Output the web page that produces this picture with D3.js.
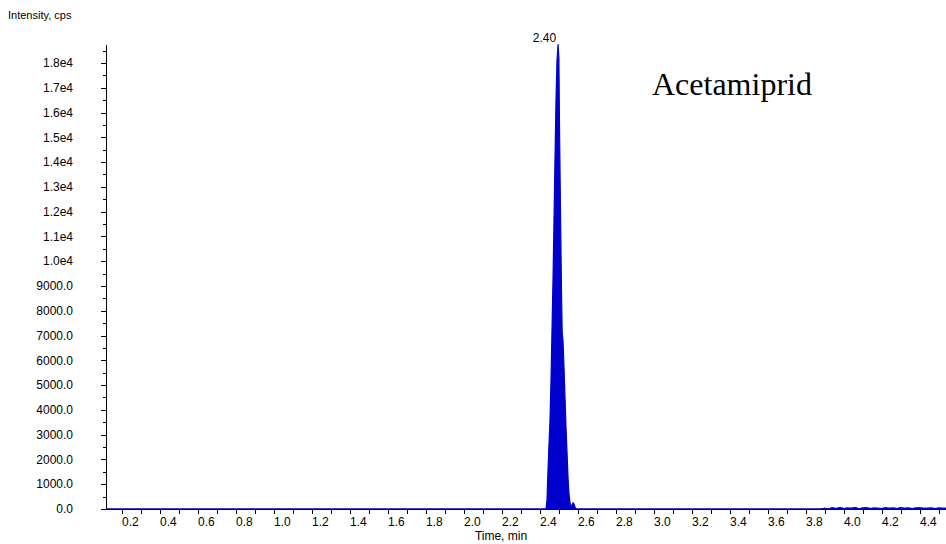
<!DOCTYPE html>
<html>
<head>
<meta charset="utf-8">
<script src="https://cdn.jsdelivr.net/npm/d3@7"></script>
<style>
  html, body { margin: 0; padding: 0; background: #fff; }
  svg { display: block; }
  text { font-family: Arial, "Liberation Sans", sans-serif; fill: #000; }
</style>
</head>
<body>
<svg id="chart" width="946" height="544"></svg>
<script>
// ---- data ----
const peakTimes = [2.3332, 2.3384, 2.3437, 2.3489, 2.3542, 2.3595, 2.3647, 2.3700, 2.3753, 2.3805,
                   2.3858, 2.3911, 2.3970, 2.4010, 2.4042, 2.4095, 2.4147, 2.4184, 2.4226, 2.4279,
                   2.4332, 2.4384, 2.4437, 2.4489, 2.4542, 2.4595, 2.4647, 2.4700, 2.4753, 2.4805,
                   2.4858, 2.4911];
const peakValues = [0, 360, 1570, 2600, 3590, 5200, 7200, 9240, 11660, 14100,
                    16500, 18100, 18760, 18200, 15500, 12000, 8800, 7100, 6800, 5700,
                    4500, 3300, 2300, 1300, 600, 250, 120, 150, 250, 200,
                    80, 0];
const noiseTimes = [3.78, 3.80, 3.82, 3.84, 3.86, 3.88, 3.90, 3.92, 3.94, 3.96, 3.98, 4.00,
                    4.02, 4.04, 4.06, 4.08, 4.10, 4.12, 4.14, 4.16, 4.18, 4.20, 4.22, 4.24,
                    4.26, 4.28, 4.30, 4.32, 4.34, 4.36, 4.38, 4.40, 4.42, 4.44];
const noiseValues = [0, 30, 10, 45, 20, 60, 15, 40, 25, 55, 10, 35, 50, 20, 40, 30, 15,
                     45, 25, 35, 20, 50, 30, 40, 20, 35, 45, 25, 30, 40, 20, 35, 25, 30];
const startTime = 0.0174, endTime = 4.4384;
const yTickValues = d3.range(0, 18001, 1000);
const yMinorValues = d3.range(500, 18600, 1000);
const xTickValues = d3.range(1, 45).map(d => d / 10);
const xLabelValues = d3.range(1, 23).map(d => d / 5);
const compoundName = "Acetamiprid";
const xTitle = "Time, min";
const yTitle = "Intensity, cps";

// ---- build series ----
const series = [];
series.push({t: startTime, v: 0});
series.push({t: 2.30, v: 0});
peakTimes.forEach((t, i) => series.push({t, v: peakValues[i]}));
noiseTimes.forEach((t, i) => series.push({t, v: noiseValues[i]}));

// ---- scales ----
const svg = d3.select("#chart");
const x = d3.scaleLinear().domain([startTime, endTime]).range([106, 946]);
const y = d3.scaleLinear().domain([0, 18726]).range([509, 45]);
const blue = "#0000cc";

// area + line
svg.append("path")
  .datum(series)
  .attr("d", d3.area().x(d => x(d.t)).y0(y(0)).y1(d => y(d.v)))
  .attr("fill", blue);
svg.append("path")
  .datum(series)
  .attr("d", d3.line().x(d => x(d.t)).y(d => y(d.v)))
  .attr("fill", "none").attr("stroke", blue).attr("stroke-width", 1.2);

// y axis
const yAxisG = svg.append("g").attr("transform", "translate(106,0)");
yAxisG.append("line").attr("x1", 0.5).attr("x2", 0.5).attr("y1", 45).attr("y2", 509)
  .attr("stroke", "#000").attr("shape-rendering", "crispEdges");
yAxisG.selectAll("line.maj").data(yTickValues).join("line").attr("class", "maj")
  .attr("x1", -5).attr("x2", 0.5).attr("y1", d => Math.round(y(d)) + 0.5).attr("y2", d => Math.round(y(d)) + 0.5)
  .attr("stroke", "#000").attr("shape-rendering", "crispEdges");
yAxisG.selectAll("line.min").data(yMinorValues).join("line").attr("class", "min")
  .attr("x1", -3).attr("x2", 0.5).attr("y1", d => Math.round(y(d)) + 0.5).attr("y2", d => Math.round(y(d)) + 0.5)
  .attr("stroke", "#000").attr("shape-rendering", "crispEdges");
const yFmt = d => d >= 10000 ? (d / 10000).toFixed(1) + "e4" : d.toFixed(1);
yAxisG.selectAll("text").data(yTickValues).join("text")
  .attr("x", -33).attr("y", d => y(d)).attr("dy", "0.35em")
  .attr("text-anchor", "end").attr("font-size", 12).text(yFmt);

// x axis
const xAxisG = svg.append("g").attr("transform", "translate(0,509)");
xAxisG.append("line").attr("x1", 106).attr("x2", 946).attr("y1", 0.5).attr("y2", 0.5)
  .attr("stroke", "#000").attr("shape-rendering", "crispEdges");
xAxisG.selectAll("line.tk").data(xTickValues).join("line").attr("class", "tk")
  .attr("x1", d => Math.round(x(d)) + 0.5).attr("x2", d => Math.round(x(d)) + 0.5)
  .attr("y1", 0.5).attr("y2", 5)
  .attr("stroke", "#000").attr("shape-rendering", "crispEdges");
xAxisG.selectAll("text").data(xLabelValues).join("text")
  .attr("x", d => x(d) - 2).attr("y", 17)
  .attr("text-anchor", "end").attr("font-size", 12).text(d => d.toFixed(1));

// redraw the flat baseline over the axis in blue (data lies on the axis)
svg.append("path")
  .datum(series.filter(d => d.v === 0 || d.t > 3.7))
  .attr("d", d3.line().x(d => x(d.t)).y(d => y(d.v)))
  .attr("fill", "none").attr("stroke", blue).attr("stroke-width", 1.2);

// titles
svg.append("text").attr("x", 501).attr("y", 540).attr("text-anchor", "middle")
  .attr("font-size", 12).text(xTitle);
svg.append("text").attr("x", 8).attr("y", 19).attr("font-size", 11).text(yTitle);

// peak label
const apex = series.reduce((a, b) => (b.v > a.v ? b : a));
svg.append("text").attr("x", x(apex.t) - 2).attr("y", y(apex.v) - 2)
  .attr("text-anchor", "end").attr("font-size", 12).text(apex.t.toFixed(2));

// compound name
svg.append("text").attr("x", 652).attr("y", 95)
  .style("font-family", "'Liberation Serif', 'Times New Roman', serif")
  .attr("font-size", 32).text(compoundName);
</script>
</body>
</html>
